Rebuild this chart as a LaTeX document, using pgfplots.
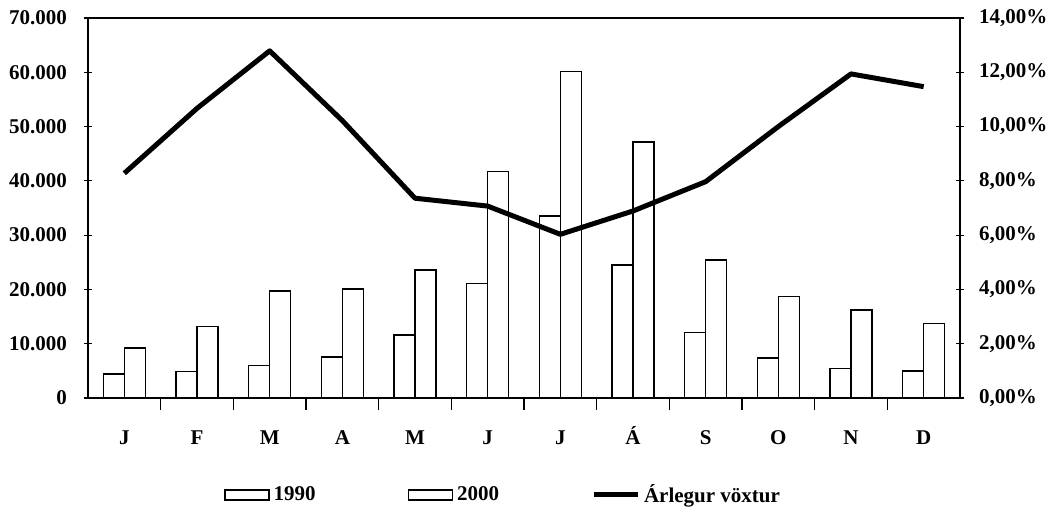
\documentclass[border=0pt]{standalone}
\usepackage{fontspec}
\setmainfont{Liberation Serif}
\usepackage{pgfplots}
\pgfplotsset{compat=1.18}

\begin{document}
\begin{tikzpicture}
  \useasboundingbox (-44pt,-57pt) rectangle (482.5pt,199pt);
  \pgfplotsset{
    base/.style={
      scale only axis,
      width=436pt, height=190pt,
      xmin=-0.5, xmax=11.5,
      ymin=0,
      tick align=center,
      major tick length=4pt,
      tick style={black, line width=0.6pt},
      tick label style={font=\fontsize{10.5}{12}\selectfont\bfseries},
      scaled y ticks=false,
      /pgf/number format/assume math mode=true,
    },
  }
  \begin{axis}[
    base,
    ybar=0pt,
    bar width=10.5pt,
    ymax=70000,
    axis line style={black, line width=0.8pt},
    axis y line*=left,
    xtick pos=bottom,
    xtick={0,...,11},
    xticklabels={J,F,M,A,M,J,J,Á,S,O,N,D},
    xticklabel style={anchor=base, yshift=-19.5pt},
    every major x tick/.append style={draw=none},
    minor xtick={0.5,1.5,...,10.5},
    minor tick length=6pt,
    ytick={0,10000,...,70000},
    yticklabels={0,10.000,20.000,30.000,40.000,50.000,60.000,70.000},
    yticklabel style={xshift=-5pt},
    legend columns=3,
    legend style={
      at={(208pt,-48.5pt)}, anchor=center,
      draw=none, fill=none,
      font=\fontsize{10.5}{12}\selectfont\bfseries,
      /tikz/every even column/.append style={column sep=44pt},
    },
  ]
    \addplot[draw=black, fill=white, line width=0.75pt,
      legend image code/.code={\draw[black, line width=0.75pt, fill=white] (0pt,-2.5pt) rectangle (22pt,2.5pt);}]
      coordinates {
      (0,4400) (1,4850) (2,5950) (3,7550) (4,11650) (5,21100)
      (6,33500) (7,24500) (8,12100) (9,7400) (10,5450) (11,4950)
    };
    \addlegendentry{1990}
    \addplot[draw=black, fill=white, line width=0.75pt,
      legend image code/.code={\draw[black, line width=0.75pt, fill=white] (0pt,-2.5pt) rectangle (22pt,2.5pt);}]
      coordinates {
      (0,9250) (1,13150) (2,19700) (3,20050) (4,23550) (5,41700)
      (6,60100) (7,47200) (8,25400) (9,18700) (10,16250) (11,13700)
    };
    \addlegendentry{2000}
    \addlegendimage{legend image code/.code={\draw[black, line width=2.5pt] (0pt,0pt) -- (22pt,0pt);}}
    \addlegendentry{Árlegur vöxtur}
    \draw[black, line width=0.8pt] (rel axis cs:0,1) -- (rel axis cs:1,1);
  \end{axis}
  \begin{axis}[
    base,
    ymax=14,
    axis x line=none,
    axis y line*=right,
    axis line style={black, line width=0.8pt},
    ytick={0,2,...,14},
    yticklabels={{0,00\%},{2,00\%},{4,00\%},{6,00\%},{8,00\%},{10,00\%},{12,00\%},{14,00\%}},
    yticklabel style={xshift=4pt},
  ]
    \addplot[black, line width=2.5pt, line join=round] coordinates {
      (0,8.28) (1,10.67) (2,12.79) (3,10.22) (4,7.36) (5,7.07)
      (6,6.03) (7,6.89) (8,7.97) (9,10.0) (10,11.94) (11,11.47)
    };
  \end{axis}
\end{tikzpicture}
\end{document}
